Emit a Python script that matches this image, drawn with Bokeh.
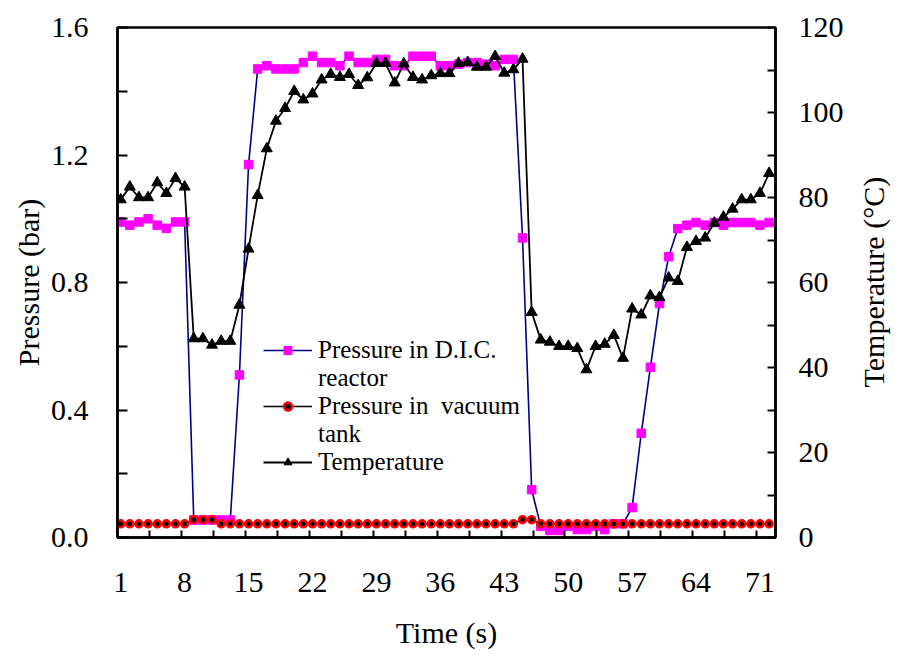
import math
from bokeh.plotting import figure
from bokeh.models import Range1d, LinearAxis, FixedTicker, Legend, LegendItem
from bokeh.embed import file_html
from bokeh.resources import INLINE

# ---- data ----
time_s = list(range(1, 73))
x_tick_labels = [1, 8, 15, 22, 29, 36, 43, 50, 57, 64, 71]

pressure_reactor = [
    0.99, 0.98, 0.99, 1.00, 0.98, 0.97, 0.99, 0.99,
    0.055, 0.055, 0.055, 0.055, 0.055, 0.51, 1.17,
    1.47, 1.48, 1.47, 1.47, 1.47, 1.49, 1.51, 1.49, 1.49, 1.48,
    1.51, 1.49, 1.49, 1.50, 1.50, 1.48, 1.48, 1.51, 1.51, 1.51,
    1.48, 1.48, 1.485, 1.49, 1.49, 1.485, 1.48, 1.50, 1.50,
    0.94, 0.15, 0.035, 0.022, 0.022, 0.035, 0.025, 0.025, 0.035, 0.025,
    0.043, 0.043, 0.094, 0.327, 0.534, 0.734, 0.881, 0.969,
    0.98, 0.988, 0.98, 0.988, 0.98, 0.988, 0.988, 0.988, 0.98, 0.988,
]

pressure_vacuum = [
    0.043, 0.043, 0.043, 0.043, 0.043, 0.043, 0.043, 0.043,
    0.056, 0.056, 0.056, 0.043, 0.043, 0.043, 0.043,
    0.043, 0.043, 0.043, 0.043, 0.043, 0.043, 0.043, 0.043, 0.043, 0.043,
    0.043, 0.043, 0.043, 0.043, 0.043, 0.043, 0.043, 0.043, 0.043, 0.043,
    0.043, 0.043, 0.043, 0.043, 0.043, 0.043, 0.043, 0.043, 0.043,
    0.056, 0.056, 0.043, 0.043, 0.043, 0.043, 0.043, 0.043, 0.043, 0.043,
    0.043, 0.043, 0.043, 0.043, 0.043, 0.043, 0.043, 0.043,
    0.043, 0.043, 0.043, 0.043, 0.043, 0.043, 0.043, 0.043, 0.043, 0.043,
]

temperature = [
    79.5, 82.5, 80, 80, 83.5, 81, 84.5, 82.5,
    46.8, 46.8, 45.3, 46.2, 46.2, 54.7, 67.9,
    80.5, 91.5, 98, 101, 105, 103, 104.4, 107.7, 109, 108.3,
    109, 106.4, 108.2, 111.6, 111.6, 107, 111.5, 108.3, 107.7, 108.7,
    109.2, 109.2, 111.6, 111.8, 110.7, 110.7, 113.2, 109.3, 110.1,
    112.6, 53, 46.5, 46, 45, 45, 44.5, 39.5, 45, 45.5,
    47.6, 42.2, 53.8, 52.4, 56.9, 56.5, 61.1, 60.3,
    68.3, 69.7, 70.5, 74, 75.4, 77.3, 79.5, 79.5, 81, 85.7,
]

pressure_ticks = [0.0, 0.4, 0.8, 1.2, 1.6]
pressure_minor = [0.2, 0.6, 1.0, 1.4]
temp_ticks = [0, 20, 40, 60, 80, 100, 120]
temp_minor = [10, 30, 50, 70, 90, 110]
x_minor = [4.15, 7.65, 11.15, 14.65, 18.15, 21.65, 25.15, 28.65, 32.15, 35.65,
           39.15, 42.65, 46.15, 49.65, 53.15, 56.65, 60.15, 63.65, 67.15, 70.65]

FONT = "Liberation Serif"

p = figure(frame_width=658, frame_height=510, output_backend="svg",
           toolbar_location=None,
           x_range=Range1d(0.65, 72.7), y_range=Range1d(0, 1.6),
           min_border_left=117, min_border_right=126,
           min_border_top=27, min_border_bottom=114)
p.extra_y_ranges = {"temp": Range1d(0, 120)}
p.grid.visible = False
p.outline_line_color = "black"
p.outline_line_width = 2.5
p.background_fill_color = "white"

# x axis
xa = p.xaxis[0]
xa.ticker = FixedTicker(ticks=x_tick_labels, minor_ticks=x_minor)
xa.major_tick_in = 0
xa.major_tick_out = 0
xa.minor_tick_in = 7
xa.minor_tick_out = 0
xa.major_label_standoff = 35
xa.axis_label = "Time (s)"
xa.axis_label_standoff = 21

# left axis
ya = p.yaxis[0]
ya.ticker = FixedTicker(ticks=pressure_ticks, minor_ticks=pressure_minor)
ya.major_label_overrides = {t: f"{t:.1f}" for t in pressure_ticks}
ya.major_tick_in = 10
ya.major_tick_out = 0
ya.minor_tick_in = 10
ya.minor_tick_out = 0
ya.major_label_standoff = 29
ya.axis_label = "Pressure (bar)"
ya.axis_label_standoff = 3

# right axis (title reads bottom-to-top, like the left one; the no-break
# spaces lift it from the axis start so that it sits centred on the axis)
ra = LinearAxis(y_range_name="temp",
                ticker=FixedTicker(ticks=temp_ticks, minor_ticks=temp_minor))
ra.major_tick_in = 8
ra.major_tick_out = 0
ra.minor_tick_in = 8
ra.minor_tick_out = 0
ra.major_label_standoff = 23
ra.axis_label = "\u00a0" * 20 + "Temperature (\u00b0C)"
ra.axis_label_standoff = 27
ra.axis_label_orientation = math.pi / 2
ra.axis_label_align = "start"
p.add_layout(ra, "right")

for ax in [xa, ya, ra]:
    ax.axis_line_color = "black"
    ax.axis_line_width = 2.5
    ax.major_tick_line_color = "black"
    ax.minor_tick_line_color = "black"
    ax.major_tick_line_width = 2
    ax.minor_tick_line_width = 2
    ax.major_label_text_font = FONT
    ax.major_label_text_font_size = "30px"
    ax.major_label_text_color = "black"
    ax.axis_label_text_font = FONT
    ax.axis_label_text_font_size = "30px"
    ax.axis_label_text_font_style = "normal"
    ax.axis_label_text_color = "black"

# series
pl = p.line(time_s, pressure_reactor, line_color="#000080", line_width=1.6)
pm = p.scatter(time_s, pressure_reactor, marker="square", size=8.5,
               fill_color="#FF00FF", line_color="#FF00FF")
vl = p.line(time_s, pressure_vacuum, line_color="black", line_width=1.6)
vm = p.scatter(time_s, pressure_vacuum, marker="circle", size=7,
               fill_color="black", line_color="red", line_width=2.5)
tl = p.line(time_s, temperature, line_color="black", line_width=1.8,
            y_range_name="temp")
tm = p.scatter(time_s, temperature, marker="triangle", size=11,
               fill_color="black", line_color="black", y_range_name="temp")

blank = p.scatter(x=[], y=[], fill_alpha=0, line_alpha=0)

legend = Legend(items=[
    LegendItem(label="Pressure in D.I.C.", renderers=[pl, pm]),
    LegendItem(label="reactor", renderers=[blank]),
    LegendItem(label="Pressure in  vacuum", renderers=[vl, vm]),
    LegendItem(label="tank", renderers=[blank]),
    LegendItem(label="Temperature", renderers=[tl, tm]),
], location=(146, 61))
legend.padding = 0
legend.margin = 0
legend.spacing = -2
legend.border_line_alpha = 0
legend.background_fill_alpha = 0
legend.glyph_width = 49
legend.glyph_height = 20
legend.label_standoff = 6
legend.label_height = 20
legend.label_text_font = FONT
legend.label_text_font_size = "25px"
legend.label_text_color = "black"
p.add_layout(legend)

open("out.html", "w").write(file_html(p, INLINE))
